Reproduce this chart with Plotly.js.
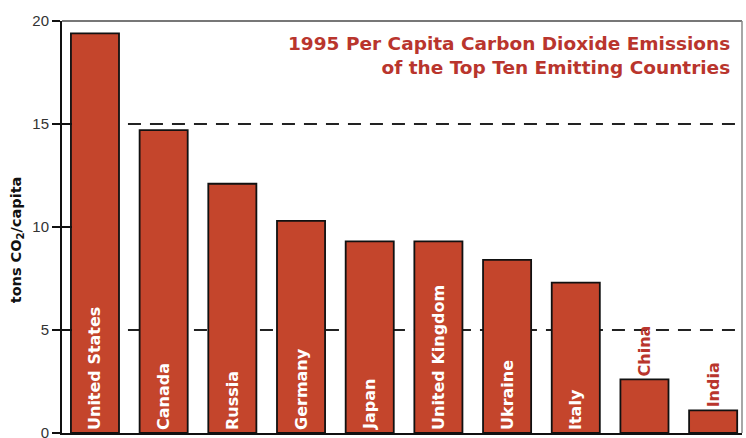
<!DOCTYPE html>
<html>
<head>
<meta charset="utf-8">
<script src="https://cdn.plot.ly/plotly-3.0.1.min.js"></script>
<style>html,body{margin:0;padding:0;background:#fff;}#chart{width:746px;height:438px;}</style>
</head>
<body>
<div id="chart"></div>
<script>
const countries = ["United States","Canada","Russia","Germany","Japan","United Kingdom","Ukraine","Italy","China","India"];
const emissions = [19.4, 14.7, 12.1, 10.3, 9.3, 9.3, 8.4, 7.3, 2.6, 1.1];
const labelPos = ["inside","inside","inside","inside","inside","inside","inside","inside","outside","outside"];
const yTicks = [0, 5, 10, 15, 20];
const refLines = [5, 15];

const red = "#c4452c";
const titleRed = "#b9352d";
const labelColors = labelPos.map(p => p === "inside" ? "#ffffff" : titleRed);
const boldFont = "'DejaVu Sans', Verdana, sans-serif";

const trace = {
  type: "bar",
  x: countries.map((c, i) => i),
  y: emissions,
  width: 0.7,
  text: countries,
  textposition: labelPos,
  insidetextanchor: "start",
  textangle: -90,
  textfont: {family: boldFont, size: 16, color: labelColors, weight: "bold"},
  constraintext: "none",
  cliponaxis: false,
  marker: {color: red, line: {color: "#111", width: 1.8}},
  hoverinfo: "skip"
};

const shapes = refLines.map(v => ({
  type: "line", xref: "paper", yref: "y", x0: 0.097, x1: 0.995, y0: v, y1: v,
  layer: "below", line: {color: "#222", width: 2.2, dash: "13px,9px"}
}));
shapes.push({type: "line", xref: "paper", yref: "paper", x0: 0, x1: 1, y0: 1, y1: 1, line: {color: "#777", width: 2}});
shapes.push({type: "line", xref: "paper", yref: "paper", x0: 1, x1: 1, y0: 0, y1: 1, line: {color: "#888", width: 1.5}});

const layout = {
  width: 746, height: 438,
  margin: {l: 62, r: 4, t: 21, b: 5},
  paper_bgcolor: "#fff", plot_bgcolor: "#fff",
  showlegend: false,
  bargap: 0.3,
  xaxis: {range: [-0.48, 9.42], showticklabels: false, ticks: "", showgrid: false, zeroline: false,
          showline: true, linecolor: "#111", linewidth: 2, fixedrange: true},
  yaxis: {range: [0, 20], tickvals: yTicks, ticks: "outside", ticklen: 8, tickwidth: 1.5, tickcolor: "#111",
          ticklabeloverflow: "allow",
          showgrid: false, zeroline: false, showline: true, linecolor: "#111", linewidth: 2,
          tickfont: {family: "'Liberation Sans', Arial, sans-serif", size: 15, color: "#333"}},
  yaxis2: {range: [0, 20], overlaying: "y", side: "left", tickvals: yTicks, ticks: "inside", ticklen: 10,
           tickwidth: 1.5, tickcolor: "#111", showticklabels: false, showgrid: false, zeroline: false},
  shapes: shapes,
  annotations: [{
    xref: "paper", yref: "paper", x: 0.985, y: 0.975, xanchor: "right", yanchor: "top", align: "right",
    showarrow: false,
    text: "1995 Per Capita Carbon Dioxide Emissions<br>of the Top Ten Emitting Countries",
    font: {family: boldFont, size: 18.5, color: titleRed, weight: "bold"}
  }, {
    xref: "paper", yref: "paper", x: -0.066, y: 0.468, xanchor: "center", yanchor: "middle",
    showarrow: false, textangle: -90,
    text: "tons CO<sub>2</sub>/capita",
    font: {family: boldFont, size: 14.5, color: "#111", weight: "bold"}
  }]
};

const dummy = {type: "scatter", x: [0], y: [0], yaxis: "y2", mode: "markers", marker: {opacity: 0}, hoverinfo: "skip"};

Plotly.newPlot("chart", [trace, dummy], layout, {staticPlot: true});
</script>
</body>
</html>
